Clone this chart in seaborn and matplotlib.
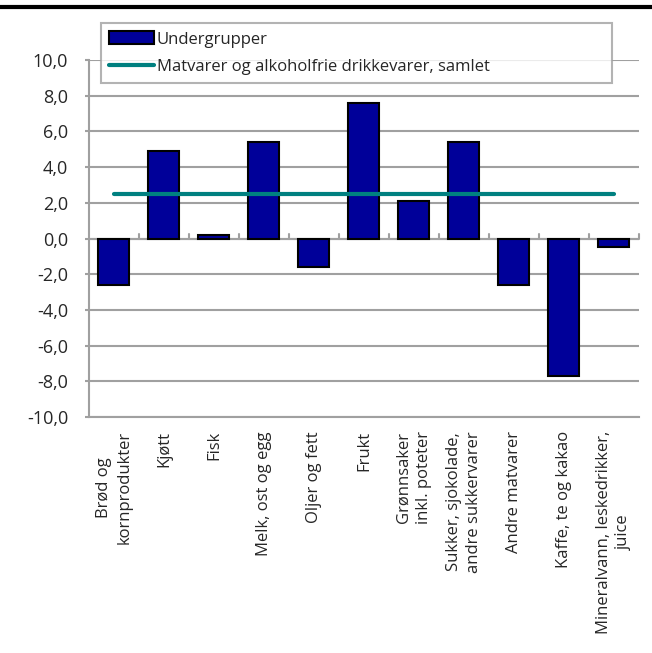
import matplotlib
matplotlib.use("Agg")
import matplotlib.pyplot as plt
import seaborn as sns
import pandas as pd
from matplotlib.ticker import FuncFormatter, MultipleLocator

categories = [
    "Brød og\nkornprodukter", "Kjøtt", "Fisk", "Melk, ost og egg", "Oljer og fett",
    "Frukt", "Grønnsaker\ninkl. poteter", "Sukker, sjokolade,\nandre sukkervarer",
    "Andre matvarer", "Kaffe, te og kakao", "Mineralvann, leskedrikker,\njuice",
]
undergrupper = [-2.6, 4.9, 0.2, 5.4, -1.6, 7.6, 2.1, 5.4, -2.6, -7.7, -0.5]
samlet = [2.5] * len(categories)

df = pd.DataFrame({"kategori": categories, "verdi": undergrupper, "samlet": samlet})

sns.set_style("white")
plt.rcParams["font.family"] = ["Open Sans", "DejaVu Sans"]

fig = plt.figure(figsize=(6.52, 6.53), dpi=100)
ax = fig.add_axes([0.1365, 0.3614, 0.8435, 0.5466])

grey = "#a0a0a0"
ax.set_ylim(-10, 10)
ax.yaxis.set_major_locator(MultipleLocator(2))
ax.grid(axis="y", color=grey, lw=1.5, zorder=0)
ax.set_axisbelow(True)

sns.barplot(data=df, x="kategori", y="verdi", color="#000099", edgecolor="black",
            linewidth=1.5, width=0.62, saturation=1, ax=ax, label="Undergrupper", zorder=3)
sns.lineplot(data=df, x="kategori", y="samlet", color="#008080", lw=3, ax=ax,
             label="Matvarer og alkoholfrie drikkevarer, samlet", zorder=4)

n = len(categories)
ax.set_xlim(-0.5, n - 0.5)
ax.axhline(0, color=grey, lw=1.5, zorder=2)
for b in range(1, n + 1):
    ax.plot([b - 0.5, b - 0.5], [0, 0.25], color=grey, lw=1.5, zorder=2, clip_on=False)

for side in ["top", "right"]:
    ax.spines[side].set_visible(False)
ax.spines["left"].set_color(grey)
ax.spines["left"].set_linewidth(1.5)
ax.spines["bottom"].set_color(grey)
ax.spines["bottom"].set_linewidth(1.5)

ax.yaxis.set_major_formatter(FuncFormatter(lambda v, p: f"{v:.1f}".replace(".", ",").replace("-0,0", "0,0")))
ax.tick_params(axis="y", length=3, width=1.5, color=grey, labelsize=13, left=True, pad=12)
ax.tick_params(axis="x", length=0, pad=10)
ax.set_xticks(range(n))
ax.set_xticklabels(categories, rotation=90, fontsize=12, ha="center", va="top",
                   multialignment="center", linespacing=1.4)
ax.set_xlabel("")
ax.set_ylabel("")

handles, labels = ax.get_legend_handles_labels()
order = [labels.index("Undergrupper"), labels.index("Matvarer og alkoholfrie drikkevarer, samlet")]
leg = ax.legend([handles[i] for i in order], [labels[i] for i in order],
                loc="lower left", bbox_to_anchor=(0.022, 0.936, 0.929, 0.173),
                mode="expand", frameon=True, fontsize=12, fancybox=False,
                borderpad=0.5, handlelength=2.7, handleheight=0.8,
                handletextpad=0.15, labelspacing=0.65, borderaxespad=0)
leg.get_frame().set_edgecolor(grey)
leg.get_frame().set_linewidth(1.5)

fig.add_artist(plt.Line2D([0, 1], [0.989, 0.989], color="black", lw=3,
                          transform=fig.transFigure))

fig.savefig("out.png", dpi=100)
